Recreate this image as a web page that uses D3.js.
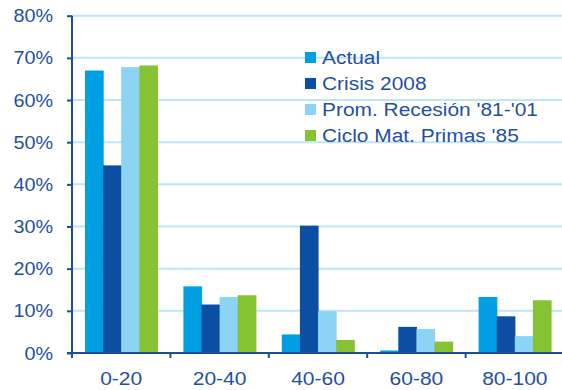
<!DOCTYPE html>
<html>
<head>
<meta charset="utf-8">
<script src="https://cdn.jsdelivr.net/npm/d3@7"></script>
<style>
  html, body { margin: 0; padding: 0; background: #fff; }
  svg { display: block; font-family: "Liberation Sans", Arial, sans-serif; }
</style>
</head>
<body>
<svg id="chart" width="562" height="390"></svg>
<script>
// Share of cases per range bucket
const categories = ["0-20", "20-40", "40-60", "60-80", "80-100"];
const seriesNames = ["Actual", "Crisis 2008", "Prom. Recesión '81-'01", "Ciclo Mat. Primas '85"];
const actual   = [0.670, 0.158, 0.044, 0.006, 0.133];
const crisis   = [0.445, 0.115, 0.302, 0.062, 0.087];
const promedio = [0.678, 0.133, 0.099, 0.057, 0.040];
const ciclo    = [0.682, 0.137, 0.031, 0.027, 0.125];
const yTicks = [0, 0.1, 0.2, 0.3, 0.4, 0.5, 0.6, 0.7, 0.8];
const colors = ["#009FE3", "#0B4FA3", "#8DD3F3", "#86C332"];

const seriesValues = [actual, crisis, promedio, ciclo];
const textColor = "#1F50A3";
const axisColor = "#1E4F9E";
const stretch = 1.1;

const svg = d3.select("#chart");
const plotLeft = 72, plotRight = 564, plotTop = 15.7, plotBottom = 353;

const y = d3.scaleLinear().domain([0, 0.8]).range([plotBottom, plotTop]);
const x0 = d3.scaleBand().domain(categories).range([plotLeft, plotRight]).padding(0);
const groupPad = 13;
const x1 = d3.scaleBand().domain(seriesNames)
  .range([groupPad, x0.bandwidth() - groupPad]).padding(0);

// horizontal gridlines
svg.append("g").selectAll("line")
  .data(yTicks.filter(t => t > 0))
  .join("line")
  .attr("x1", plotLeft).attr("x2", 562)
  .attr("y1", d => y(d)).attr("y2", d => y(d))
  .attr("stroke", "#BDE5F8").attr("stroke-width", 2);

// bars
const groups = svg.append("g").selectAll("g")
  .data(categories)
  .join("g")
  .attr("transform", d => `translate(${x0(d)},0)`);

groups.selectAll("rect")
  .data((c, i) => seriesNames.map((s, k) => ({ s, k, v: seriesValues[k][i] })))
  .join("rect")
  .attr("x", d => x1(d.s))
  .attr("width", x1.bandwidth() + 0.6)
  .attr("y", d => y(d.v))
  .attr("height", d => y(0) - y(d.v))
  .attr("fill", d => colors[d.k]);

// y axis
const yAxis = d3.axisLeft(y).tickValues(yTicks).tickSize(5).tickFormat("");
const yg = svg.append("g").attr("transform", `translate(${plotLeft},0)`).call(yAxis);
yg.select(".domain").attr("d", `M0,${plotTop}V${plotBottom + 5}`);
yg.selectAll("path, line").attr("stroke", axisColor).attr("stroke-width", 2);

svg.append("g").selectAll("text")
  .data(yTicks)
  .join("text")
  .attr("transform", d => `translate(53,${y(d) + 6.5}) scale(${stretch},1)`)
  .attr("text-anchor", "end")
  .attr("font-size", 18)
  .attr("fill", textColor)
  .text(d => d3.format(".0%")(d));

// x axis
const boundaries = categories.slice(1).map(c => x0(c));
const xg = svg.append("g");
xg.append("line")
  .attr("x1", plotLeft - 5).attr("x2", 562)
  .attr("y1", plotBottom).attr("y2", plotBottom)
  .attr("stroke", axisColor).attr("stroke-width", 2);
xg.selectAll("line.tick")
  .data(boundaries)
  .join("line")
  .attr("class", "tick")
  .attr("x1", d => d).attr("x2", d => d)
  .attr("y1", plotBottom).attr("y2", plotBottom + 5)
  .attr("stroke", axisColor).attr("stroke-width", 2);

svg.append("g").selectAll("text")
  .data(categories)
  .join("text")
  .attr("transform", d => `translate(${x0(d) + x0.bandwidth() / 2},385) scale(1.2,1)`)
  .attr("text-anchor", "middle")
  .attr("font-size", 17.5)
  .attr("fill", textColor)
  .text(d => d);

// legend
const legend = svg.append("g").attr("transform", "translate(305,52)");
const rows = legend.selectAll("g")
  .data(seriesNames)
  .join("g")
  .attr("transform", (d, i) => `translate(0,${i * 26})`);
rows.append("rect")
  .attr("width", 11).attr("height", 11)
  .attr("fill", (d, i) => colors[i]);
rows.append("text")
  .attr("transform", `translate(17,12) scale(${stretch},1)`)
  .attr("font-size", 19)
  .attr("fill", textColor)
  .text(d => d);
</script>
</body>
</html>
